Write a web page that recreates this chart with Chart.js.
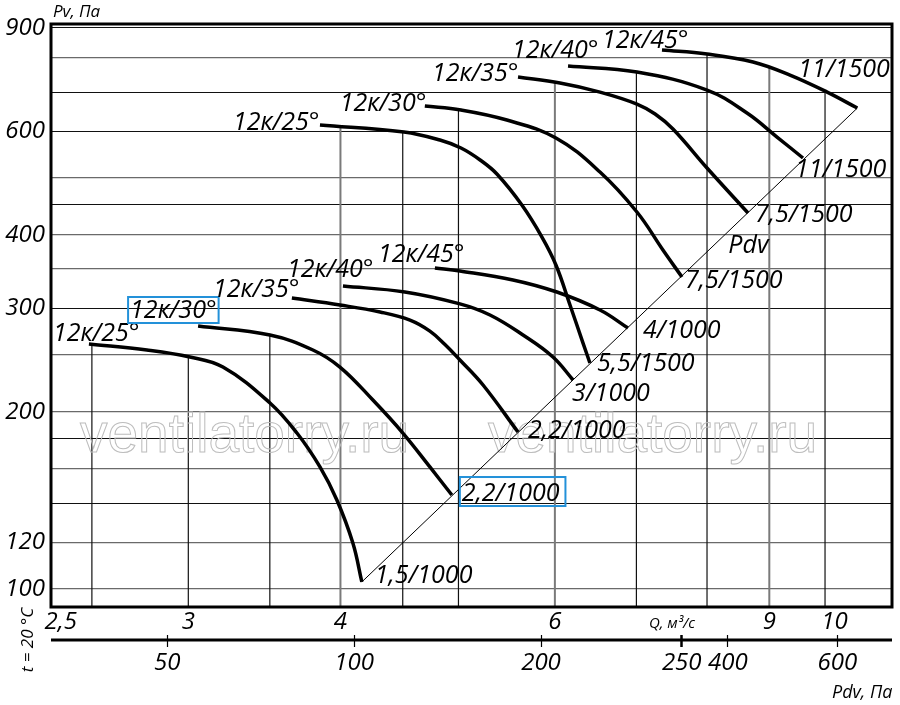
<!DOCTYPE html>
<html>
<head>
<meta charset="utf-8">
<script src="https://cdn.jsdelivr.net/npm/chart.js@4.4.1/dist/chart.umd.min.js"></script>
<style>
html,body{margin:0;padding:0;background:#fff;}
canvas{display:block;}
</style>
</head>
<body>
<canvas id="c" width="900" height="705"></canvas>
<script>
// ---------- DATA ----------
// Q, m3/s and Pv, Pa (1000 rpm group)
const q_1000_25 = [2.486, 2.774, 3.009, 3.203, 3.501, 3.684, 3.848, 3.973, 4.095, 4.165];
const pv_1000_25 = [261.0, 255.0, 248.1, 238.5, 207.2, 184.2, 161.3, 141.7, 119.7, 102.8];
const q_1000_30 = [3.056, 3.501, 3.797, 3.996, 4.253, 4.501, 4.737, 4.938];
const pv_1000_30 = [280.1, 270.4, 255.0, 238.5, 209.6, 184.2, 161.3, 144.5];
const q_1000_35 = [3.649, 3.996, 4.311, 4.562, 4.737, 4.874, 5.014, 5.238, 5.596];
const pv_1000_35 = [312.5, 304.1, 295.9, 286.7, 274.6, 260.5, 245.2, 222.3, 184.9];
const q_1000_40 = [4.019, 4.518, 5.014, 5.307, 5.649, 5.978, 6.210];
const pv_1000_40 = [327.6, 320.0, 305.4, 292.4, 270.4, 248.1, 226.7];
const q_1000_45 = [4.782, 5.014, 5.543, 6.023, 6.534, 6.889];
const pv_1000_45 = [351.5, 347.4, 335.5, 320.0, 298.2, 277.9];
// 1500 rpm group
const q_1500_25 = [3.848, 4.510, 4.828, 5.024, 5.209, 5.377, 5.637, 5.855, 6.012, 6.174, 6.328, 6.411];
const pv_1500_25 = [615.3, 598.7, 580.2, 562.3, 536.6, 507.9, 449.8, 396.8, 355.7, 304.1, 262.0, 242.3];
const q_1500_30 = [4.692, 5.024, 5.479, 6.012, 6.534, 7.007, 7.360, 7.630];
const pv_1500_30 = [662.9, 652.6, 627.5, 584.8, 511.9, 437.7, 377.2, 339.3];
const q_1500_35 = [5.596, 6.058, 6.534, 7.007, 7.252, 7.501, 8.000, 8.645];
const pv_1500_35 = [742.5, 725.3, 700.0, 668.0, 642.4, 605.8, 520.0, 436.0];
const q_1500_40 = [6.151, 7.007, 8.000, 8.628, 9.132, 9.592];
const pv_1500_40 = [775.4, 757.3, 705.7, 645.0, 587.1, 540.8];
const q_1500_45 = [7.347, 8.000, 8.727, 9.359, 10.04, 10.63];
const pv_1500_45 = [825.5, 812.7, 787.6, 748.2, 700.0, 657.7];
// dynamic pressure line Pdv
const q_pdv = [4.165, 10.63];
const pv_pdv = [102.8, 657.7];

const curveNames = ['12к/25°','12к/30°','12к/35°','12к/40°','12к/45°','12к/25°','12к/30°','12к/35°','12к/40°','12к/45°'];
const motorLabels = ['1,5/1000','2,2/1000','2,2/1000','3/1000','4/1000','5,5/1500','7,5/1500','7,5/1500','11/1500','11/1500'];

// axes
const yGridValues = [100,120,140,160,180,200,250,300,350,400,450,500,600,700,800,900];
const yTickLabels = [100,120,200,300,400,600,900];
const xGridValues = [2.5,3,3.5,4,4.5,5,6,7,8,9,10];
const xTickValues = [2.5,3,4,6,9,10];
const xTickLabels = ['2,5','3','4','6','9','10'];
const pdvTickValues = [50,100,200,337,400,600];
const pdvTickLabels = ['50','100','200','250','400','600'];

// ---------- STYLE / LAYOUT ----------
const FONT = '"Open Sans", "DejaVu Sans", sans-serif';
const yBlack = [900,700,600,450,300,180,140];
const xGray = [4,6,9];
const nameOff = [[-36,-3],[-68,-8],[-79,-1],[-56,-9],[-57,-6],[-87,5],[-85,5],[-86,4],[-56,-8],[-60,-2]];
const motorOff = [[13,1],[10,6],[10,6],[-1,21],[15,10],[7,8],[3,11],[7,9],[-8,19],[-59,-31]];
const boxed = 1;
const BLUE = '#2391d9';

const series = [
  [q_1000_25, pv_1000_25],[q_1000_30, pv_1000_30],[q_1000_35, pv_1000_35],[q_1000_40, pv_1000_40],[q_1000_45, pv_1000_45],
  [q_1500_25, pv_1500_25],[q_1500_30, pv_1500_30],[q_1500_35, pv_1500_35],[q_1500_40, pv_1500_40],[q_1500_45, pv_1500_45]
];
const toXY = (q, p) => q.map((v, i) => ({x: v, y: p[i]}));

const datasets = series.map(([q, p]) => ({
  data: toXY(q, p),
  borderColor: '#000',
  borderWidth: 3.5,
  pointRadius: 0,
  fill: false,
  tension: 0.4,
  borderCapStyle: 'butt',
  borderJoinStyle: 'round'
}));
datasets.push({
  data: toXY(q_pdv, pv_pdv),
  borderColor: '#000',
  borderWidth: 1,
  pointRadius: 0,
  fill: false,
  tension: 0
});

const overlay = {
  id: 'overlay',
  beforeDatasetsDraw(chart) {
    const ctx = chart.ctx, xs = chart.scales.x, ca = chart.chartArea;
    ctx.save();
    // vertical grid lines rising only up to the top curve
    xGridValues.forEach(v => {
      const px = xs.getPixelForValue(v);
      let top = Infinity;
      for (let d = 0; d < series.length; d++) {
        const pts = chart.getDatasetMeta(d).data;
        for (let k = 0; k < pts.length - 1; k++) {
          const a = pts[k], b = pts[k + 1];
          if (px >= a.x && px <= b.x) {
            top = Math.min(top, a.y + (b.y - a.y) * (px - a.x) / (b.x - a.x));
          }
        }
      }
      if (!isFinite(top)) top = ca.top;
      const gray = xGray.includes(v);
      ctx.strokeStyle = gray ? '#7a7a7a' : '#111';
      ctx.lineWidth = gray ? 2 : 1.2;
      ctx.beginPath();
      ctx.moveTo(px, ca.bottom);
      ctx.lineTo(px, top);
      ctx.stroke();
    });
    // watermark
    ctx.font = '55px "Liberation Sans", Arial, sans-serif';
    ctx.strokeStyle = '#bdbdbd';
    ctx.lineWidth = 1;
    ctx.textBaseline = 'alphabetic';
    ctx.textAlign = 'left';
    ctx.strokeText('ventilatorry.ru', ca.left + 29, ca.top + 428);
    ctx.strokeText('ventilatorry.ru', ca.left + 437, ca.top + 428);
    ctx.restore();
  },
  afterDatasetsDraw(chart) {
    const ctx = chart.ctx, ca = chart.chartArea;
    ctx.save();
    ctx.font = 'italic 25px ' + FONT;
    ctx.fillStyle = '#000';
    ctx.textAlign = 'left';
    ctx.textBaseline = 'alphabetic';
    for (let d = 0; d < series.length; d++) {
      const pts = chart.getDatasetMeta(d).data;
      const first = pts[0], last = pts[pts.length - 1];
      const nx = first.x + nameOff[d][0], ny = first.y + nameOff[d][1];
      const mx = last.x + motorOff[d][0], my = last.y + motorOff[d][1];
      ctx.fillText(curveNames[d], nx, ny);
      ctx.fillText(motorLabels[d], mx, my);
      if (d === boxed) {
        ctx.strokeStyle = BLUE;
        ctx.lineWidth = 2;
        const w1 = ctx.measureText(curveNames[d]).width;
        ctx.strokeRect(nx - 2, ny - 21, w1 + 4, 26);
        const w2 = ctx.measureText(motorLabels[d]).width;
        ctx.strokeRect(mx - 2, my - 24, w2 + 8, 29);
      }
    }
    // Pdv label
    const pm = chart.getDatasetMeta(series.length).data;
    const pl = pm[pm.length - 1];
    ctx.fillText('Pdv', pl.x - 129, pl.y + 145);
    // frame
    ctx.strokeStyle = '#000';
    ctx.lineWidth = 3;
    ctx.strokeRect(ca.left, ca.top, ca.right - ca.left, ca.bottom - ca.top);
    ctx.restore();
  },
  afterDraw(chart) {
    const ctx = chart.ctx, x2 = chart.scales.x2, ca = chart.chartArea;
    ctx.save();
    // Pdv axis line
    ctx.strokeStyle = '#000';
    ctx.lineWidth = 3;
    ctx.beginPath();
    ctx.moveTo(x2.left, x2.top + 5);
    ctx.lineTo(x2.right, x2.top + 5);
    ctx.stroke();
    ctx.fillStyle = '#000';
    ctx.textBaseline = 'alphabetic';
    ctx.textAlign = 'left';
    ctx.font = 'italic 17px ' + FONT;
    ctx.fillText('Pv, Па', ca.left + 2, ca.top - 7);
    ctx.font = 'italic 18px ' + FONT;
    ctx.fillText('Pdv, Па', ca.right - 60, 698);
    ctx.font = 'italic 15px ' + FONT;
    ctx.textAlign = 'center';
    ctx.fillText('Q, м³/с', 672, 628);
    ctx.translate(33, 640);
    ctx.rotate(-Math.PI / 2);
    ctx.font = 'italic 17px ' + FONT;
    ctx.fillText('t = 20 °C', 0, 0);
    ctx.restore();
  }
};

new Chart(document.getElementById('c'), {
  type: 'line',
  data: { datasets },
  options: {
    responsive: false,
    animation: false,
    devicePixelRatio: 1,
    layout: { padding: { top: 24, right: 8, left: 0, bottom: 0 } },
    plugins: { legend: { display: false }, tooltip: { enabled: false } },
    scales: {
      x: {
        type: 'logarithmic',
        position: 'bottom',
        weight: 0,
        min: 2.314, max: 11.35,
        afterBuildTicks: s => { s.ticks = xTickValues.map(v => ({ value: v })); },
        afterFit: s => { s.height = 28; },
        grid: { display: false, drawTicks: false },
        border: { display: false },
        ticks: {
          autoSkip: false, maxRotation: 0, minRotation: 0, padding: 3,
          color: '#000',
          font: { family: FONT, style: 'italic', size: 24, lineHeight: 1 },
          callback: (v, i) => {
            const t = xTickLabels[xTickValues.indexOf(v)] ?? '';
            if (i === 0) return t + '          ';
            if (i === xTickValues.length - 1) return '   ' + t;
            return t;
          }
        }
      },
      x2: {
        type: 'logarithmic',
        position: 'bottom',
        weight: 1,
        min: 32.5, max: 735,
        afterBuildTicks: s => { s.ticks = pdvTickValues.map(v => ({ value: v })); },
        afterFit: s => { s.height = 70; },
        grid: {
          display: true, drawOnChartArea: false, drawTicks: true, tickLength: 12,
          tickColor: '#000', color: '#000',
          tickWidth: c => (c.tick && c.tick.value === 337) ? 2.5 : 1.2
        },
        border: { display: false },
        ticks: {
          autoSkip: false, maxRotation: 0, minRotation: 0, padding: 4,
          color: '#000',
          font: { family: FONT, style: 'italic', size: 24, lineHeight: 1 },
          callback: (v) => pdvTickLabels[pdvTickValues.indexOf(v)] ?? ''
        }
      },
      y: {
        type: 'logarithmic',
        position: 'left',
        min: 93.2, max: 914,
        afterBuildTicks: s => { s.ticks = yGridValues.map(v => ({ value: v })); },
        afterFit: s => { s.width = 51; },
        grid: {
          drawTicks: false,
          color: c => (c.tick && yBlack.includes(c.tick.value)) ? '#111' : '#6a6a6a',
          lineWidth: c => (c.tick && yBlack.includes(c.tick.value)) ? 1.1 : 1.3
        },
        border: { display: false },
        ticks: {
          autoSkip: false, padding: 6, color: '#000',
          font: { family: FONT, style: 'italic', size: 24, lineHeight: 1 },
          callback: (v) => yTickLabels.includes(v) ? String(v) : ''
        }
      }
    }
  },
  plugins: [overlay]
});
</script>
</body>
</html>
